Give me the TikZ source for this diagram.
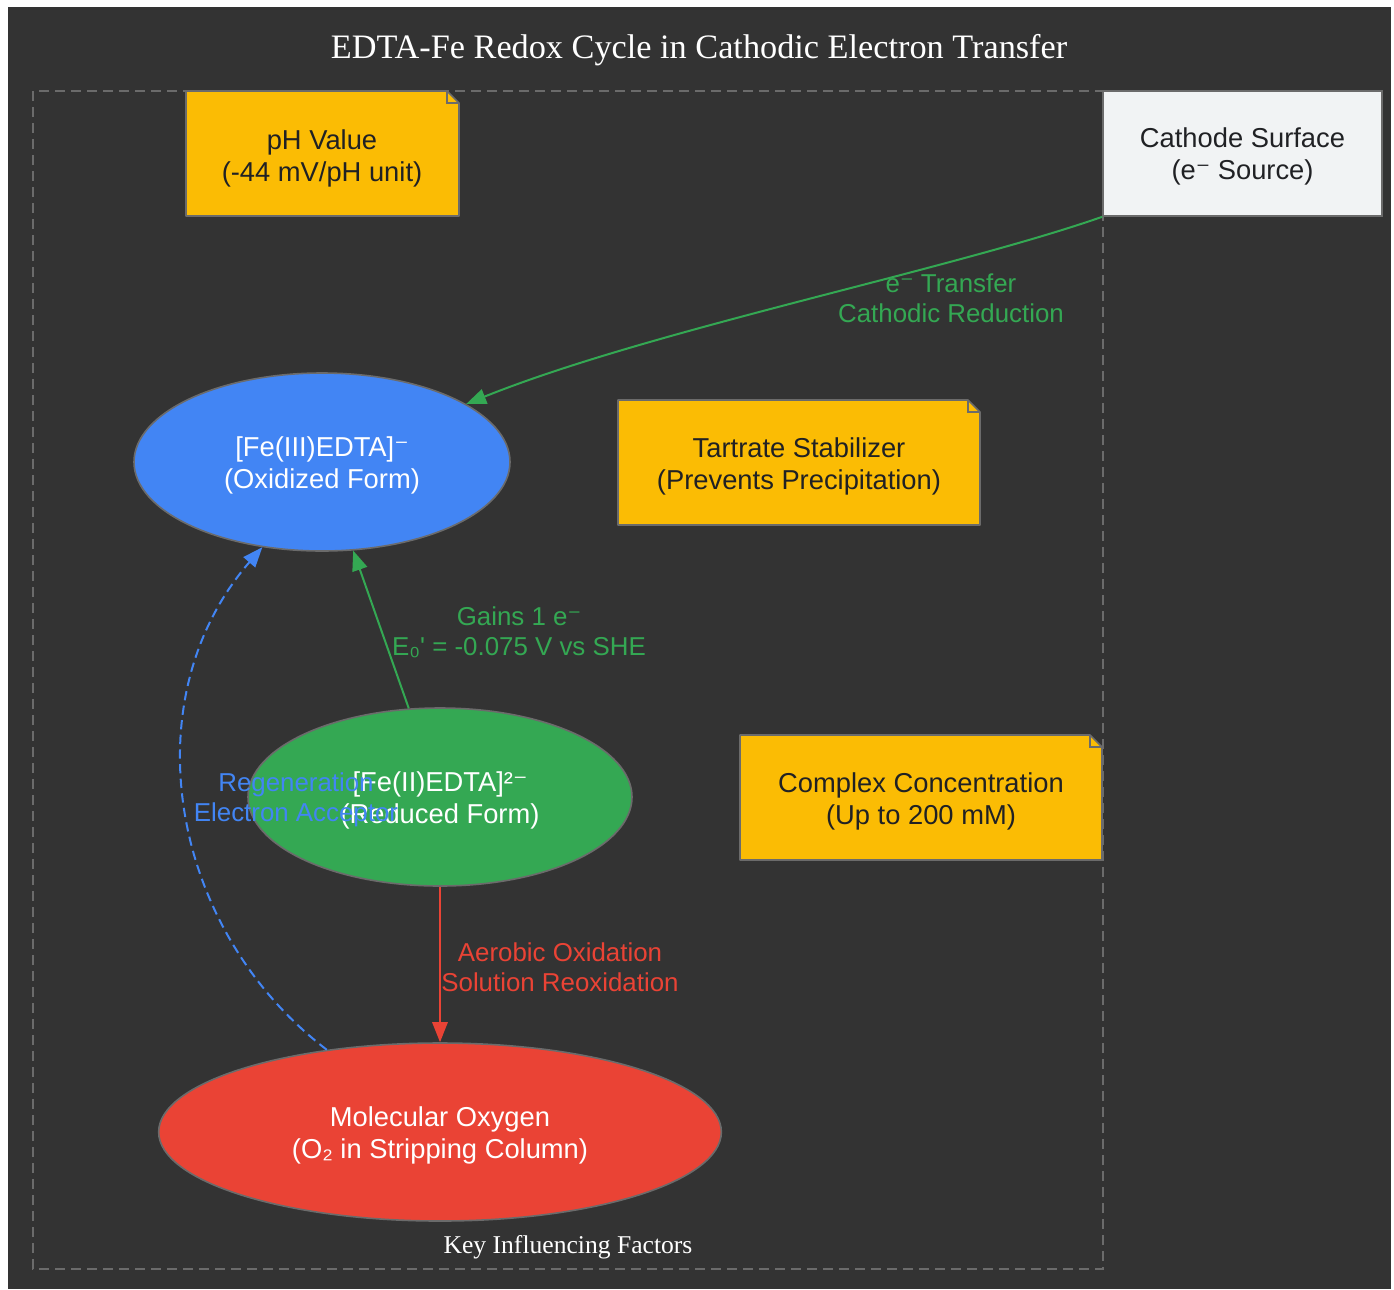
\documentclass[tikz,border=0pt]{standalone}
\usepackage{fontspec}
\setmainfont{Liberation Serif}
\newfontfamily\lsans{Liberation Sans}
\newfontfamily\dvsans{DejaVu Sans}
\newcommand{\supm}{{\dvsans ⁻}}
\usetikzlibrary{shapes.geometric,arrows.meta}
\definecolor{bgdark}{HTML}{333333}
\definecolor{gyellow}{HTML}{FBBC04}
\definecolor{gblue}{HTML}{4285F4}
\definecolor{ggreen}{HTML}{34A853}
\definecolor{gred}{HTML}{EA4335}
\definecolor{glight}{HTML}{F1F3F4}
\definecolor{gborder}{HTML}{6B6B6B}
\definecolor{gtext}{HTML}{202124}
\tikzset{
  txt/.style={font=\lsans\fontsize{20.5}{24}\selectfont, align=center},
  state/.style={ellipse, draw=gborder, line width=1.2pt, inner sep=0pt},
  intext/.style={txt, text=white, yshift=-2.25pt},
  elab/.style={font=\lsans\fontsize{19.4}{22.5}\selectfont, align=center},
  edge/.style={line width=1.5pt, -{Triangle[length=15pt,width=11.5pt]}},
}
\begin{document}
\begin{tikzpicture}[x=0.75pt,y=-0.75pt]
\useasboundingbox (0,0) rectangle (1394,1289);
\fill[white] (0,0) rectangle (1394,1289);
\fill[bgdark] (8,7) rectangle (1391,1289);
% title
\node[text=white, font=\fontsize{25.7}{30}\selectfont] (title) at (699,50) {EDTA-Fe Redox Cycle in Cathodic Electron Transfer};
% cluster
\draw[gborder, line width=1.5pt, dash pattern=on 7.5pt off 4.5pt] (33,91) rectangle (1103,1269);
\node[text=white, font=\fontsize{19.2}{23}\selectfont] (ctitle) at (568,1247) {Key Influencing Factors};
% notes (folded corner)
\foreach \xa/\ya/\xb/\yb in {186/91/459/216, 618/400/980/525, 740/735/1102/860}{
  \filldraw[fill=gyellow, draw=gborder, line width=1.2pt, line join=round]
    (\xa,\ya) -- ({\xb-12},\ya) -- (\xb,{\ya+12}) -- (\xb,\yb) -- (\xa,\yb) -- cycle;
  \draw[gborder, line width=1.2pt] ({\xb-12},\ya) -- ({\xb-12},{\ya+12}) -- (\xb,{\ya+12});
}
\node[txt, text=gtext] (ph) at (322,158) {pH Value\\(-44 mV/pH unit)};
\node[txt, text=gtext] (tart) at (799,466) {Tartrate Stabilizer\\(Prevents Precipitation)};
\node[txt, text=gtext] (conc) at (921,801) {Complex Concentration\\(Up to 200 mM)};
% cathode
\node[fill=glight, draw=gborder, line width=1.2pt, minimum width=209.25pt, minimum height=93.75pt, inner sep=0pt,
  label={[name=cathtxt, txt, text=gtext, yshift=-2.25pt]center:{Cathode Surface\\(e\supm{} Source)}}] (cath) at (1242.5,153.5) {};
% states
\node[state, fill=gblue, minimum width=282pt, minimum height=133.5pt,
  label={[name=fe3txt, intext]center:{[Fe(III)EDTA]\supm\\(Oxidized Form)}}] (fe3) at (322,462) {};
\node[state, fill=ggreen, minimum width=288pt, minimum height=133.5pt,
  label={[name=fe2txt, intext]center:{[Fe(II)EDTA]²\supm\\(Reduced Form)}}] (fe2) at (440,797) {};
\node[state, fill=gred, minimum width=422pt, minimum height=133.5pt,
  label={[name=o2txt, intext]center:{Molecular Oxygen\\(O₂ in Stripping Column)}}] (o2) at (440,1132) {};
% edges
\draw[edge, ggreen] (cath.south west) .. controls (950,270) and (650,330) .. (fe3);
\node[elab, text=ggreen] (l1) at (951,298) {e\supm{} Transfer\\Cathodic Reduction};
\draw[edge, ggreen] (fe2) -- (fe3);
\node[elab, text=ggreen] (l2) at (519,632) {Gains 1 e\supm\\E₀' = -0.075 V vs SHE};
\draw[edge, gred] (fe2) -- (o2);
\node[elab, text=gred] (l3) at (560,967) {Aerobic Oxidation\\Solution Reoxidation};
\draw[edge, gblue, dash pattern=on 7pt off 4pt] (o2.144) .. controls (170,930) and (130,700) .. (fe3.235);
\node[elab, text=gblue] (l4) at (296,800) {Regeneration\\Electron Acceptor};
\end{tikzpicture}
\end{document}
